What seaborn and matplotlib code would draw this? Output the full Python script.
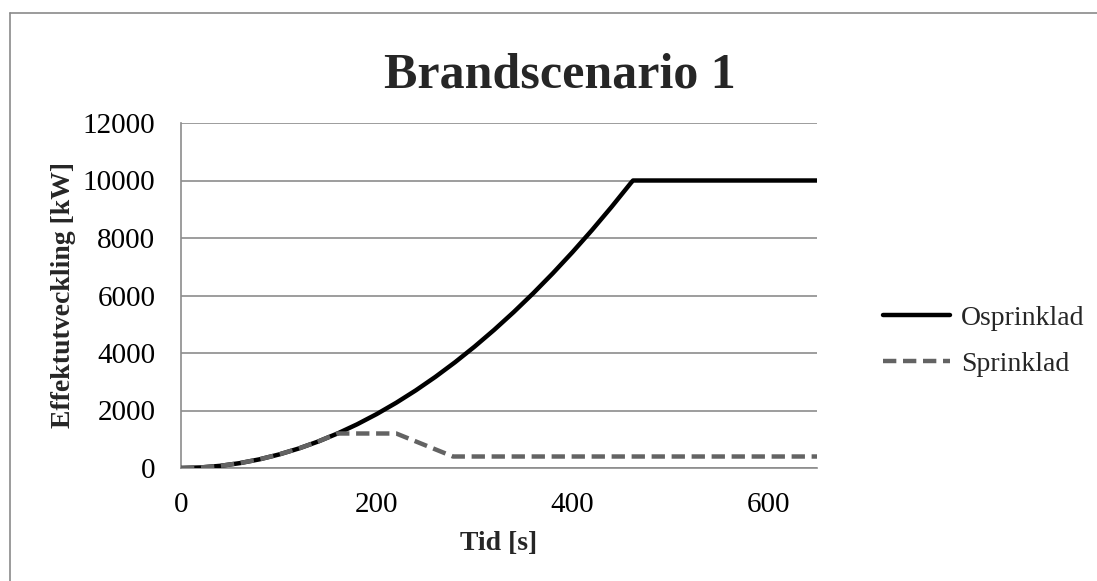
import matplotlib
matplotlib.use("Agg")
import matplotlib.pyplot as plt
import seaborn as sns
import pandas as pd
from matplotlib.lines import Line2D

# Data
time_osprinklad = [0, 20, 40, 60, 80, 100, 120, 140, 160, 180, 200, 220, 240, 260,
                   280, 300, 320, 340, 360, 380, 400, 420, 440, 460, 462, 650]
effekt_osprinklad = [0, 19, 75, 169, 300, 469, 675, 919, 1201, 1520, 1876, 2270, 2701, 3170,
                     3677, 4221, 4803, 5422, 6078, 6772, 7504, 8273, 9080, 9924, 10000, 10000]
time_sprinklad = [0, 20, 40, 60, 80, 100, 120, 140, 160, 220, 278, 650]
effekt_sprinklad = [0, 19, 75, 169, 300, 469, 675, 919, 1200, 1200, 400, 400]
series_names = ["Osprinklad", "Sprinklad"]
y_ticks = [0, 2000, 4000, 6000, 8000, 10000, 12000]
x_ticks = [0, 200, 400, 600]

sns.set_theme(style="white")
plt.rcParams["font.family"] = ["Liberation Serif", "DejaVu Serif"]

df = pd.concat([
    pd.DataFrame({"Tid": time_osprinklad, "Effekt": effekt_osprinklad, "Serie": series_names[0]}),
    pd.DataFrame({"Tid": time_sprinklad, "Effekt": effekt_sprinklad, "Serie": series_names[1]}),
])

fig = plt.figure(figsize=(10.97, 5.81), dpi=100)
ax = fig.add_axes([181 / 1097, 113 / 581, 636 / 1097, 345 / 581])

grid_color = "#8c8c8c"
for yv in y_ticks:
    ax.axhline(yv, color=grid_color, lw=1.2, zorder=0)

colors = {"Osprinklad": "black", "Sprinklad": "#636363"}
sns.lineplot(data=df[df.Serie == "Osprinklad"], x="Tid", y="Effekt", ax=ax,
             color=colors["Osprinklad"], lw=3.2, legend=False, zorder=3)
sns.lineplot(data=df[df.Serie == "Sprinklad"], x="Tid", y="Effekt", ax=ax,
             color=colors["Sprinklad"], lw=3.2, legend=False, zorder=4)
ax.lines[-1].set_dashes([3.0, 1.5])

ax.set_xlim(0, 650)
ax.set_ylim(0, 12000)
ax.set_xticks(x_ticks)
ax.set_yticks(y_ticks)
ax.tick_params(axis="both", length=0, labelsize=21, colors="black")
ax.tick_params(axis="y", pad=18.5)
ax.tick_params(axis="x", pad=17)
for s in ["top", "right"]:
    ax.spines[s].set_visible(False)
for s in ["left", "bottom"]:
    ax.spines[s].set_color(grid_color)
    ax.spines[s].set_linewidth(1.2)

ax.set_xlabel("Tid [s]", fontsize=20, fontweight="bold", labelpad=10)
ax.set_ylabel("Effektutveckling [kW]", fontsize=20, fontweight="bold", labelpad=5)

fig.text(560 / 1097, 1 - 76 / 581, "Brandscenario 1", fontsize=36, fontweight="bold",
         ha="center", va="center")

handles = [Line2D([0], [0], color=colors["Osprinklad"], lw=3.2),
           Line2D([0], [0], color=colors["Sprinklad"], lw=3.2, dashes=[3.0, 1.5])]
fig.legend(handles, series_names, loc="center left", bbox_to_anchor=(858 / 1097, 1 - 341 / 581),
           frameon=False, fontsize=20, handlelength=2.4, handletextpad=0.4, labelspacing=0.75)

# outer chart border (top and left visible)
border = "#8a8a8a"
fig.add_artist(Line2D([10 / 1097, 1.0], [1 - 13 / 581, 1 - 13 / 581], color=border, lw=1.2,
                      transform=fig.transFigure))
fig.add_artist(Line2D([10 / 1097, 10 / 1097], [0, 1 - 13 / 581], color=border, lw=1.2,
                      transform=fig.transFigure))

fig.savefig("out.png", dpi=100)
